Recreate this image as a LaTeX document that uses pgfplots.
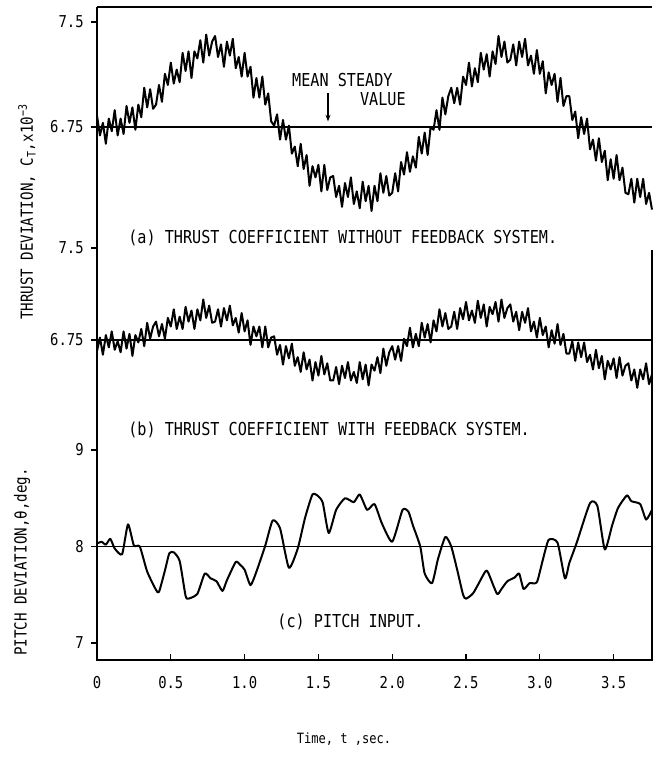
\documentclass[border=0pt]{standalone}
\usepackage{fontspec}
\setmainfont{DejaVu Sans Mono}[FakeStretch=0.85]
\usepackage{pgfplots}
\usepackage{pgfplotstable}
\pgfplotsset{compat=1.18}
\usetikzlibrary{arrows.meta}

% t, thrust without feedback (a), thrust with feedback (b)
\pgfplotstableread{
t a b
0.00 6.83 6.66
0.02 6.69 6.77
0.04 6.78 6.63
0.06 6.63 6.79
0.08 6.81 6.69
0.10 6.72 6.82
0.12 6.87 6.67
0.14 6.69 6.74
0.16 6.81 6.65
0.18 6.70 6.82
0.20 6.90 6.68
0.22 6.78 6.80
0.24 6.89 6.62
0.26 6.73 6.79
0.28 6.91 6.73
0.30 6.82 6.84
0.32 7.03 6.70
0.34 6.89 6.89
0.36 7.02 6.76
0.38 6.88 6.86
0.40 6.91 6.90
0.42 7.05 6.78
0.44 6.93 6.88
0.46 7.13 6.76
0.48 7.05 6.93
0.50 7.21 6.86
0.52 7.06 7.00
0.54 7.16 6.84
0.56 7.07 6.94
0.58 7.28 6.84
0.60 7.15 7.02
0.62 7.29 6.90
0.64 7.10 6.99
0.66 7.29 6.84
0.68 7.24 7.00
0.70 7.37 6.91
0.72 7.21 7.08
0.74 7.41 6.93
0.76 7.26 7.03
0.78 7.36 6.89
0.80 7.40 6.90
0.82 7.25 7.00
0.84 7.34 6.86
0.86 7.18 7.01
0.88 7.36 6.91
0.90 7.26 7.03
0.92 7.38 6.87
0.94 7.17 6.93
0.96 7.25 6.81
0.98 7.11 6.97
1.00 7.28 6.82
1.02 7.11 6.91
1.04 7.18 6.71
1.06 6.96 6.86
1.08 7.10 6.78
1.10 6.96 6.86
1.12 7.11 6.69
1.14 6.91 6.86
1.16 6.99 6.69
1.18 6.79 6.77
1.20 6.76 6.78
1.22 6.84 6.63
1.24 6.66 6.71
1.26 6.80 6.55
1.28 6.66 6.70
1.30 6.76 6.60
1.32 6.56 6.72
1.34 6.61 6.54
1.36 6.47 6.61
1.38 6.63 6.49
1.40 6.45 6.65
1.42 6.55 6.51
1.44 6.33 6.59
1.46 6.47 6.42
1.48 6.39 6.57
1.50 6.48 6.46
1.52 6.29 6.62
1.54 6.48 6.47
1.56 6.30 6.56
1.58 6.39 6.42
1.60 6.40 6.42
1.62 6.25 6.53
1.64 6.33 6.39
1.66 6.18 6.54
1.68 6.35 6.44
1.70 6.25 6.57
1.72 6.39 6.42
1.74 6.20 6.49
1.76 6.29 6.40
1.78 6.17 6.57
1.80 6.36 6.43
1.82 6.22 6.55
1.84 6.33 6.38
1.86 6.15 6.55
1.88 6.33 6.50
1.90 6.22 6.61
1.92 6.42 6.48
1.94 6.28 6.68
1.96 6.40 6.54
1.98 6.26 6.65
2.00 6.28 6.70
2.02 6.42 6.59
2.04 6.29 6.70
2.06 6.50 6.58
2.08 6.41 6.76
2.10 6.57 6.70
2.12 6.43 6.85
2.14 6.54 6.69
2.16 6.46 6.80
2.18 6.68 6.70
2.20 6.56 6.89
2.22 6.71 6.77
2.24 6.55 6.88
2.26 6.75 6.73
2.28 6.73 6.91
2.30 6.87 6.82
2.32 6.73 7.00
2.34 6.96 6.86
2.36 6.84 6.97
2.38 6.97 6.84
2.40 7.03 6.86
2.42 6.92 6.98
2.44 7.03 6.84
2.46 6.91 7.01
2.48 7.11 6.92
2.50 7.05 7.06
2.52 7.21 6.91
2.54 7.04 6.99
2.56 7.17 6.89
2.58 7.07 7.07
2.60 7.28 6.93
2.62 7.16 7.04
2.64 7.27 6.86
2.66 7.11 7.02
2.68 7.29 6.96
2.70 7.20 7.06
2.72 7.40 6.90
2.74 7.25 7.08
2.76 7.36 6.93
2.78 7.21 7.01
2.80 7.23 7.04
2.82 7.34 6.90
2.84 7.19 6.98
2.86 7.36 6.83
2.88 7.25 6.98
2.90 7.38 6.89
2.92 7.19 7.01
2.94 7.26 6.82
2.96 7.13 6.90
2.98 7.30 6.77
3.00 7.13 6.93
3.02 7.22 6.79
3.04 6.99 6.86
3.06 7.14 6.69
3.08 7.05 6.83
3.10 7.13 6.72
3.12 6.93 6.88
3.14 7.10 6.71
3.16 6.90 6.80
3.18 6.97 6.64
3.20 6.97 6.64
3.22 6.80 6.74
3.24 6.86 6.58
3.26 6.67 6.73
3.28 6.82 6.61
3.30 6.70 6.73
3.32 6.81 6.57
3.34 6.59 6.63
3.36 6.66 6.51
3.38 6.51 6.67
3.40 6.67 6.52
3.42 6.50 6.62
3.44 6.58 6.43
3.46 6.37 6.58
3.48 6.52 6.51
3.50 6.38 6.60
3.52 6.55 6.44
3.54 6.37 6.61
3.56 6.46 6.46
3.58 6.28 6.54
3.60 6.27 6.56
3.62 6.38 6.42
3.64 6.21 6.51
3.66 6.38 6.36
3.68 6.25 6.51
3.70 6.38 6.43
3.72 6.20 6.56
3.74 6.28 6.39
3.76 6.16 6.47
}\thrust

\newcommand\txt{\fontsize{10.7}{12}\selectfont}

\pgfplotsset{
  panel/.style={
    scale only axis, width=333pt, xmin=0, xmax=3.76, clip=false,
    axis line style={draw=none},
    tick pos=left, tick align=outside, major tick length=3.5pt,
    every tick/.style={black, line width=0.8pt},
    xtick=\empty,
    tick label style={font=\fontsize{9.8}{11}\selectfont},
    yticklabel style={xshift=-1pt},
    /pgf/number format/assume math mode=true,
  },
  sig/.style={black, line width=1.2pt, line join=round, no markers},
  ref/.style={black, line width=0.8pt, no markers},
}

\begin{document}
\begin{tikzpicture}
% (a) without feedback
\begin{axis}[panel, name=pa, at={(0,0)}, anchor=north west, height=139.8pt,
    ymin=5.943, ymax=7.607, ytick={6.75,7.5}, yticklabels={6.75,7.5}]
\addplot[ref] coordinates {(0,6.75) (3.76,6.75)};
\addplot[sig] table[x=t, y=a] {\thrust};
\node[anchor=west, font=\txt, inner sep=0pt] at (axis cs:0.21,5.957)
    {(a) THRUST COEFFICIENT WITHOUT FEEDBACK SYSTEM.};
\node[anchor=west, font=\txt, inner sep=0pt] at (axis cs:1.32,7.086) {MEAN STEADY};
\node[anchor=west, font=\txt, inner sep=0pt] at (axis cs:1.78,6.95) {VALUE};
\draw[-{Stealth[length=4pt,width=3pt]}, line width=0.7pt]
    (axis cs:1.565,6.99) -- (axis cs:1.565,6.79);
\end{axis}

% (b) with feedback
\begin{axis}[panel, name=pb, at={(0,-139.8pt)}, anchor=north west, height=120pt,
    ymin=5.935, ymax=7.565, ytick={6.75,7.5}, yticklabels={6.75,7.5}]
\addplot[ref] coordinates {(0,6.75) (3.76,6.75)};
\addplot[sig] table[x=t, y=b] {\thrust};
\node[anchor=west, font=\txt, inner sep=0pt] at (axis cs:0.21,6.017)
    {(b) THRUST COEFFICIENT WITH FEEDBACK SYSTEM.};
\end{axis}

% (c) pitch input
\begin{axis}[panel, name=pc, at={(0,-259.8pt)}, anchor=north west, height=132pt,
    ymin=6.824, ymax=9.104, ytick={7,8,9}, yticklabels={7,8,9},
    xtick={0,0.5,1,1.5,2,2.5,3,3.5},
    xticklabels={0,0.5,1.0,1.5,2.0,2.5,3.0,3.5},
    x tick style={yshift=3.5pt},
    xticklabel style={yshift=-3pt}]
\addplot[ref] coordinates {(0,8) (3.76,8)};
\addplot[sig, smooth, tension=0.35] coordinates {
  (0,8.03) (0.03,8.05) (0.06,8.02) (0.09,8.08) (0.12,7.98) (0.17,7.92)
  (0.21,8.23) (0.25,8.01) (0.29,8.00) (0.34,7.74) (0.40,7.55) (0.42,7.53)
  (0.46,7.75) (0.49,7.93) (0.52,7.94) (0.56,7.85) (0.60,7.49) (0.62,7.46)
  (0.68,7.51) (0.73,7.72) (0.77,7.67) (0.81,7.64) (0.85,7.54) (0.88,7.65)
  (0.94,7.84) (0.97,7.81) (1.00,7.76) (1.04,7.60) (1.08,7.74) (1.14,8.01)
  (1.19,8.27) (1.24,8.19) (1.30,7.78) (1.36,7.98) (1.41,8.30) (1.46,8.54)
  (1.50,8.52) (1.53,8.45) (1.57,8.14) (1.62,8.38) (1.68,8.50) (1.74,8.46)
  (1.78,8.54) (1.83,8.38) (1.88,8.44) (1.93,8.24) (2.00,8.05) (2.07,8.38)
  (2.11,8.36) (2.14,8.22) (2.19,8.00) (2.22,7.72) (2.27,7.62) (2.31,7.87)
  (2.36,8.10) (2.40,8.00) (2.44,7.76) (2.48,7.50) (2.50,7.46) (2.55,7.52)
  (2.63,7.74) (2.65,7.73) (2.71,7.51) (2.74,7.56) (2.78,7.64) (2.83,7.68)
  (2.86,7.72) (2.89,7.56) (2.93,7.62) (2.98,7.63) (3.02,7.86) (3.06,8.07)
  (3.12,8.04) (3.17,7.67) (3.20,7.83) (3.25,8.04) (3.34,8.45) (3.39,8.42)
  (3.44,7.97) (3.49,8.22) (3.53,8.40) (3.59,8.53) (3.62,8.47) (3.68,8.44)
  (3.72,8.28) (3.76,8.38)
};
\node[anchor=west, font=\txt, inner sep=0pt] at (axis cs:1.22,7.218) {(c) PITCH INPUT.};
\end{axis}

% frame
\draw[line width=1.1pt] (pa.north west) -- (pa.north east);
\draw[line width=1.1pt] (pa.north west) -- (pc.south west) -- (pc.south east)
    -- ([yshift=-6pt]pb.north east);

% axis titles
\node[rotate=90, font=\fontsize{10}{12}\selectfont] at (-42pt,-123pt)
    {THRUST DEVIATION, C\textsubscript{T},x10\textsuperscript{−3}};
\node[rotate=90, font=\fontsize{10}{12}\selectfont] at (-45pt,-333pt)
    {PITCH DEVIATION,θ,deg.};
\node[font=\fontsize{8.5}{10}\selectfont] at (148.2pt,-439.2pt) {Time, t ,sec.};

\pgfresetboundingbox
\path[use as bounding box] (-58.2pt,-451.2pt) rectangle (335.4pt,4.2pt);
\end{tikzpicture}
\end{document}
